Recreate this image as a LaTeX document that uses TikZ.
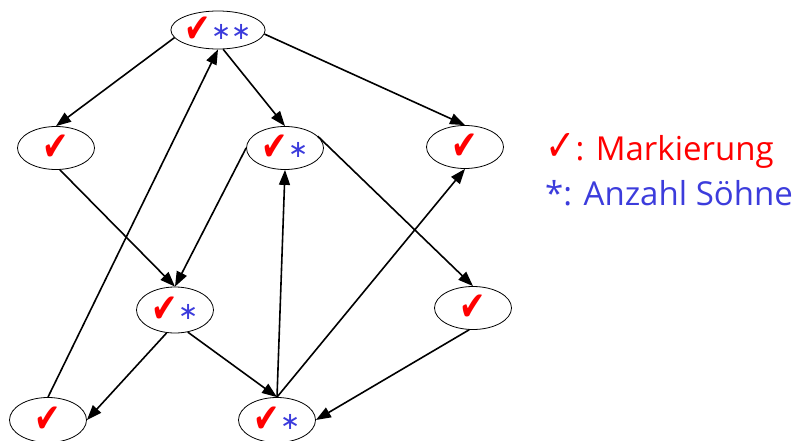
\documentclass[tikz,border=0pt]{standalone}
\usepackage{fontspec}
\usepackage{graphicx}
\setmainfont{Open Sans}
\newfontfamily\symfont{DejaVu Sans}
\usetikzlibrary{shapes.geometric,arrows.meta}
\definecolor{mkred}{RGB}{255,0,0}
\definecolor{szblue}{RGB}{60,60,220}
\newcommand\ck{{\symfont\fontsize{30}{30}\selectfont\color{mkred}\scalebox{1.05}[1.35]{✔}}}
\newcommand\st[1]{{\symfont\fontsize{24}{24}\selectfont\color{szblue}\raisebox{3pt}{#1}}}
\begin{document}
\begin{tikzpicture}[x=1pt,y=-1pt,
 knot/.style={ellipse,draw,line width=0.8pt,minimum width=77pt,minimum height=43pt,inner sep=0pt},
 edge/.style={line width=1.6pt,-{Triangle[length=15pt,width=11pt]}},
 legend/.style={anchor=base west,inner sep=0pt,font=\fontsize{33}{33}\selectfont}
]
\useasboundingbox (0,0) rectangle (800,441);
\node[knot,minimum height=38pt] (t) at (218,30) {\ck\st{∗∗}};
\node[knot] (lm) at (56,148) {\ck};
\node[knot] (cm) at (285,148) {\ck\st{∗}};
\node[knot] (rm) at (465,147) {\ck};
\node[knot,minimum height=46pt] (ll) at (175,310) {\ck\st{∗}};
\node[knot] (lr) at (473,308) {\ck};
\node[knot,minimum height=45pt] (bl) at (48,420) {\ck};
\node[knot,minimum height=45pt] (bc) at (277,420) {\ck\st{∗}};
\draw[edge] (t.190) -- (lm.north);
\draw[edge] (t.285) -- (cm.north);
\draw[edge] (t.355) -- (rm.north);
\draw[edge] (lm.280) -- (ll.north);
\draw[edge] (cm.west) -- (ll.north);
\draw[edge] (ll.250) -- (bl.east);
\draw[edge] (ll.300) -- (bc.north);
\draw[edge] (bl.north) -- (t.south);
\draw[edge] (bc.north) -- (cm.south);
\draw[edge] (bc.north) -- (rm.south);
\draw[edge] (cm.20) -- (lr.north);
\draw[edge] (lr.260) -- (bc.east);
\node[legend,text=mkred] (m1) at (545,160) {{\symfont\scalebox{1.1}[1.3]{✓}}: Markierung};
\node[legend,text=szblue] (m2) at (545,205) {*: Anzahl Söhne};
\end{tikzpicture}
\end{document}
